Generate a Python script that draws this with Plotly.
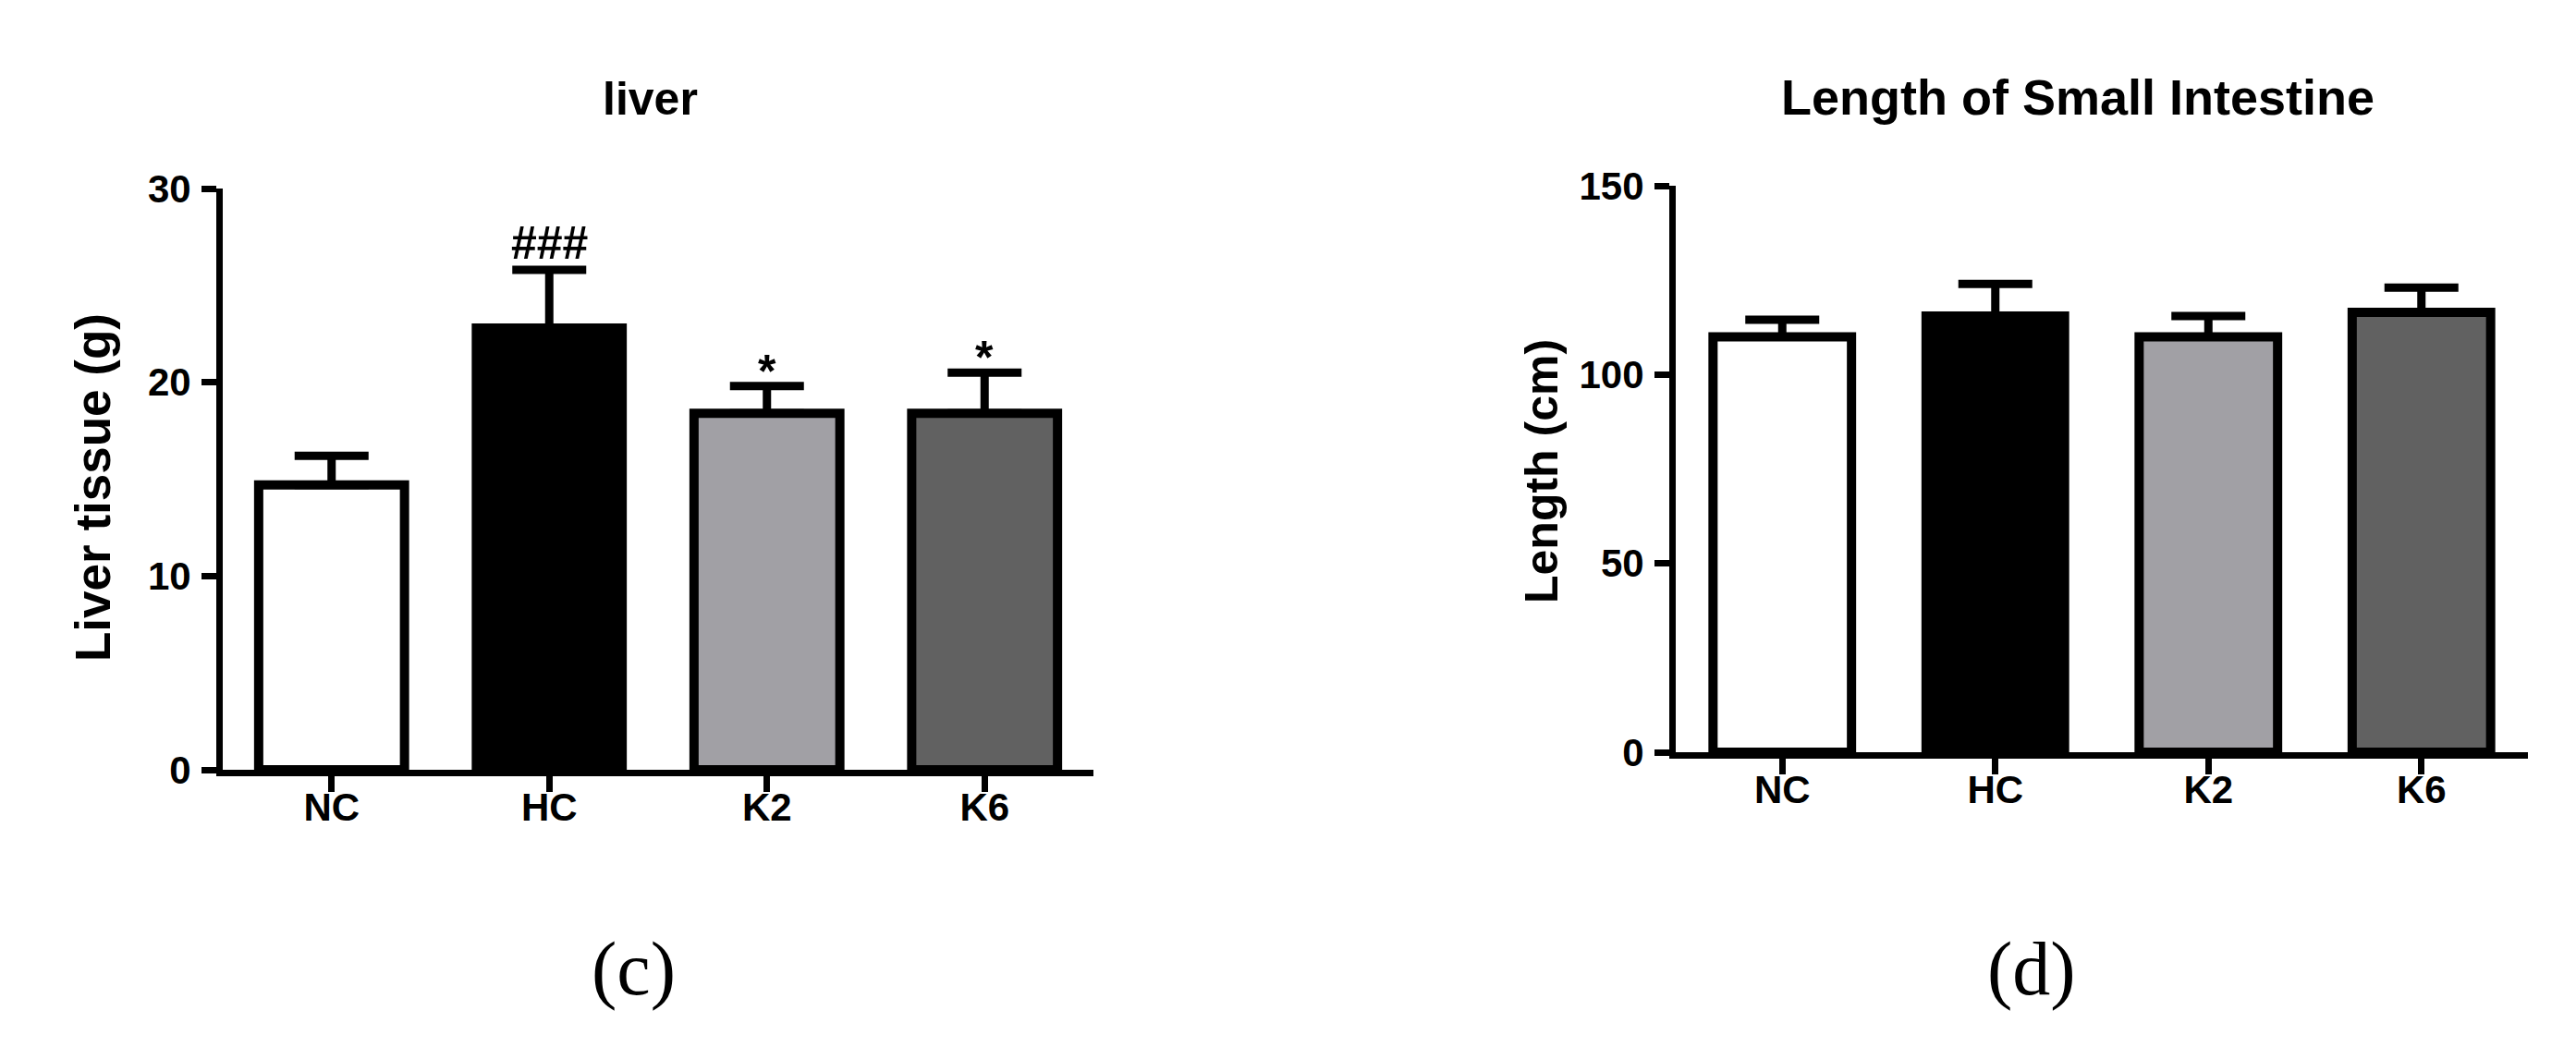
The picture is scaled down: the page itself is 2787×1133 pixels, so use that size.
import plotly.graph_objects as go

# ---------------- data ----------------
groups = ["NC", "HC", "K2", "K6"]
liver_mean = [14.7, 22.8, 18.4, 18.4]
liver_sem = [1.5, 3.0, 1.4, 2.1]
liver_marks = ["", "###", "*", "*"]
length_mean = [110.0, 115.5, 110.0, 116.5]
length_sem = [4.5, 8.5, 5.5, 6.5]
liver_ticks = [0, 10, 20, 30]
length_ticks = [0, 50, 100, 150]
bar_colors = ["#ffffff", "#000000", "#a1a0a5", "#616161"]

W, H = 2787, 1133
SANS = "Liberation Sans, Arial, Helvetica, sans-serif"
SERIF = "Liberation Serif, Times New Roman, serif"


def px_x(p):
    return p / W


def px_y(p):
    return 1 - p / H


fig = go.Figure()

fig.add_trace(go.Bar(
    x=groups, y=liver_mean, width=0.67,
    marker=dict(color=bar_colors, line=dict(color="black", width=10)),
    error_y=dict(type="data", array=liver_sem, arrayminus=[0] * 4, symmetric=False,
                 thickness=9, width=40, color="black"),
    xaxis="x", yaxis="y", showlegend=False, hoverinfo="skip",
))

fig.add_trace(go.Bar(
    x=groups, y=length_mean, width=0.65,
    marker=dict(color=bar_colors, line=dict(color="black", width=10)),
    error_y=dict(type="data", array=length_sem, arrayminus=[0] * 4, symmetric=False,
                 thickness=9, width=40, color="black"),
    xaxis="x2", yaxis="y2", showlegend=False, hoverinfo="skip",
))

axis_common = dict(
    showgrid=False, zeroline=False, showline=True, linecolor="black", linewidth=7,
    ticks="outside", tickcolor="black", tickwidth=7, automargin=False,
)

fig.update_layout(
    template="none",
    width=W, height=H,
    margin=dict(l=0, r=0, t=0, b=0, pad=0, autoexpand=False),
    paper_bgcolor="white", plot_bgcolor="white",
    xaxis=dict(domain=[px_x(233), px_x(1175)], range=[-0.5, 3.5], anchor="y",
               ticklen=17, ticklabelstandoff=-19,
               tickfont=dict(family=SANS, size=42, color="black", weight="bold"),
               **axis_common),
    yaxis=dict(domain=[px_y(825), px_y(196)], range=[0, 30], anchor="x",
               tickvals=liver_ticks, ticklen=16, ticklabelstandoff=3,
               tickfont=dict(family=SANS, size=42, color="black", weight="bold"),
               **axis_common),
    xaxis2=dict(domain=[px_x(1805), px_x(2727)], range=[-0.5, 3.5], anchor="y2",
                ticklen=17, ticklabelstandoff=-19,
                tickfont=dict(family=SANS, size=42, color="black", weight="bold"),
                **axis_common),
    yaxis2=dict(domain=[px_y(806), px_y(193)], range=[0, 150], anchor="x2",
                tickvals=length_ticks, ticklen=16, ticklabelstandoff=3,
                tickfont=dict(family=SANS, size=42, color="black", weight="bold"),
                **axis_common),
)

ann = []
# titles
ann.append(dict(text="liver", x=px_x(695), y=px_y(99), xref="paper", yref="paper",
                xanchor="center", yanchor="middle", showarrow=False,
                font=dict(family=SANS, size=50, color="black", weight="bold")))
ann.append(dict(text="Length of Small Intestine", x=px_x(2240), y=px_y(97),
                xref="paper", yref="paper", xanchor="center", yanchor="middle",
                showarrow=False,
                font=dict(family=SANS, size=54, color="black", weight="bold")))
# y titles
ann.append(dict(text="Liver tissue (g)", x=px_x(92), y=px_y(520), xref="paper",
                yref="paper", xanchor="center", yanchor="middle", textangle=-90,
                showarrow=False,
                font=dict(family=SANS, size=53, color="black", weight="bold")))
ann.append(dict(text="Length (cm)", x=px_x(1660), y=px_y(502), xref="paper",
                yref="paper", xanchor="center", yanchor="middle", textangle=-90,
                showarrow=False,
                font=dict(family=SANS, size=50, color="black", weight="bold")))
# panel labels
ann.append(dict(text="(c)", x=px_x(677), y=px_y(1040), xref="paper", yref="paper",
                xanchor="center", yanchor="middle", showarrow=False,
                font=dict(family=SERIF, size=82, color="black")))
ann.append(dict(text="(d)", x=px_x(2190), y=px_y(1040), xref="paper", yref="paper",
                xanchor="center", yanchor="middle", showarrow=False,
                font=dict(family=SERIF, size=82, color="black")))
# significance marks
for g, m, s, mark in zip(groups, liver_mean, liver_sem, liver_marks):
    if not mark:
        continue
    ann.append(dict(text=mark, x=g, y=m + s, xref="x", yref="y",
                    xanchor="center", yanchor="bottom", showarrow=False,
                    yshift=(-1 if mark.startswith("#") else -14),
                    font=dict(family=SANS, size=50, color="black", weight="bold")))

fig.update_layout(annotations=ann)

fig.write_html("out.html")
